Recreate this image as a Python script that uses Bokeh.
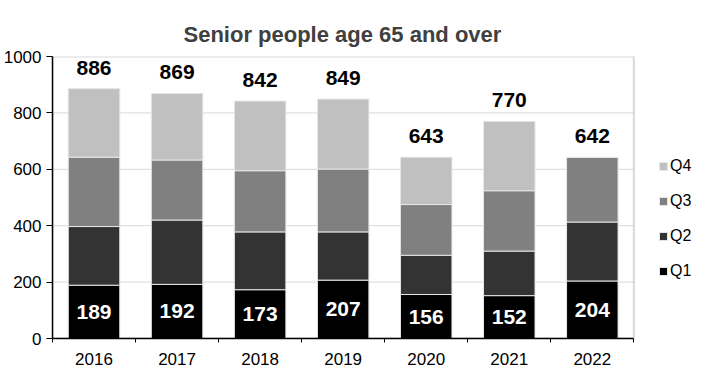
from bokeh.plotting import figure
from bokeh.models import (Range1d, FixedTicker, Legend, LegendItem,
                          ColumnDataSource, BoxAnnotation)
from bokeh.embed import file_html
from bokeh.resources import INLINE
from bokeh.core.properties import value

# ---- data ----
years = ["2016", "2017", "2018", "2019", "2020", "2021", "2022"]
q1 = [189, 192, 173, 207, 156, 152, 204]
q2 = [208, 228, 205, 171, 139, 158, 209]
q3 = [246, 213, 217, 223, 180, 214, 229]
q4 = [243, 236, 247, 248, 168, 246, 0]
totals = [886, 869, 842, 849, 643, 770, 642]
series = ["Q1", "Q2", "Q3", "Q4"]
colors = ["#000000", "#333333", "#808080", "#c0c0c0"]
y_ticks = [0, 200, 400, 600, 800, 1000]
title = "Senior people age 65 and over"

FONT = "Liberation Sans"

# ---- layout (pixels) ----
W, H = 706, 371
LEFT, TOP, BOTTOM = 49, 56, 33
PLOT_RIGHT = 633                      # right edge of the bordered plot area
cat_px = (PLOT_RIGHT - LEFT) / len(years)
x_lo = -0.5
x_hi = len(years) - 0.5
x_end = x_lo + (W - LEFT) / cat_px    # frame extends under the legend area

xs = list(range(len(years)))
src = ColumnDataSource(dict(
    x=xs, Q1=q1, Q2=q2, Q3=q3, Q4=q4,
    total=totals, total_label=[str(t) for t in totals],
    q1_mid=[v / 2 for v in q1], q1_label=[str(v) for v in q1],
))

p = figure(width=W, height=H,
           x_range=Range1d(x_lo, x_end), y_range=Range1d(y_ticks[0], y_ticks[-1]),
           output_backend="svg", toolbar_location=None,
           min_border_left=LEFT, min_border_right=0,
           min_border_top=TOP, min_border_bottom=BOTTOM)
p.outline_line_color = None
p.background_fill_color = "#ffffff"
p.border_fill_color = "#ffffff"

p.title.text = title
p.title.align = "left"
p.title.offset = 131
p.title.text_font = FONT
p.title.text_font_size = "22px"
p.title.text_font_style = "bold"
p.title.text_color = "#404040"
p.title.standoff = 19

# grid lines (limited to the bordered plot area)
p.xgrid.visible = False
p.ygrid.visible = False
grid_y = y_ticks[1:-1]
p.segment(x0=[x_lo] * len(grid_y), x1=[x_hi] * len(grid_y), y0=grid_y, y1=grid_y,
          line_color="#d9d9d9", line_width=1, level="underlay")

# plot-area border (top/right gray; left/bottom covered by axes)
p.add_layout(BoxAnnotation(left=x_lo, right=x_hi, bottom=y_ticks[0], top=y_ticks[-1],
                           fill_alpha=0, line_color="#808080", line_width=2,
                           level="underlay"))

renderers = p.vbar_stack(series, x="x", width=0.62, source=src,
                         fill_color=colors, line_color="#e6e6e6", line_width=1)

# labels
p.text(x="x", y="total", text="total_label", source=src,
       text_font=value(FONT), text_font_style="bold", text_font_size="21px",
       text_align="center", text_baseline="middle", y_offset=-21, text_color="#000000")
p.text(x="x", y="q1_mid", text="q1_label", source=src,
       text_font=value(FONT), text_font_style="bold", text_font_size="21px",
       text_align="center", text_baseline="middle", text_color="#ffffff")

# y axis
p.yaxis.ticker = FixedTicker(ticks=y_ticks)
p.yaxis.major_tick_out = 6
p.yaxis.major_tick_in = 0
p.yaxis.minor_tick_out = 0
p.yaxis.minor_tick_in = 0
p.yaxis.axis_line_color = "#000000"
p.yaxis.axis_line_width = 1.5
p.yaxis.major_tick_line_color = "#000000"
p.yaxis.major_label_text_font = FONT
p.yaxis.major_label_text_font_size = "17px"
p.yaxis.major_label_text_color = "#000000"
p.yaxis.major_label_standoff = 5

# x axis
p.xaxis.bounds = (x_lo, x_hi)
p.xaxis.ticker = FixedTicker(ticks=xs, minor_ticks=[i - 0.5 for i in range(len(years) + 1)])
p.xaxis.major_label_overrides = {i: y for i, y in zip(xs, years)}
p.xaxis.major_tick_out = 0
p.xaxis.major_tick_in = 0
p.xaxis.minor_tick_out = 4
p.xaxis.minor_tick_in = 0
p.xaxis.minor_tick_line_color = "#000000"
p.xaxis.axis_line_color = "#000000"
p.xaxis.axis_line_width = 1.5
p.xaxis.major_label_text_font = FONT
p.xaxis.major_label_text_font_size = "17px"
p.xaxis.major_label_text_color = "#000000"
p.xaxis.major_label_standoff = 10

legend = Legend(items=[LegendItem(label=s, renderers=[r])
                       for s, r in reversed(list(zip(series, renderers)))],
                location=(606, 57), orientation="vertical",
                border_line_color=None, background_fill_alpha=0,
                padding=0, margin=0, glyph_width=10, glyph_height=10,
                label_standoff=2, label_height=20, spacing=15,
                label_text_font=FONT, label_text_font_size="16px",
                label_text_color="#000000")
p.add_layout(legend)

open("out.html", "w").write(file_html(p, INLINE))
